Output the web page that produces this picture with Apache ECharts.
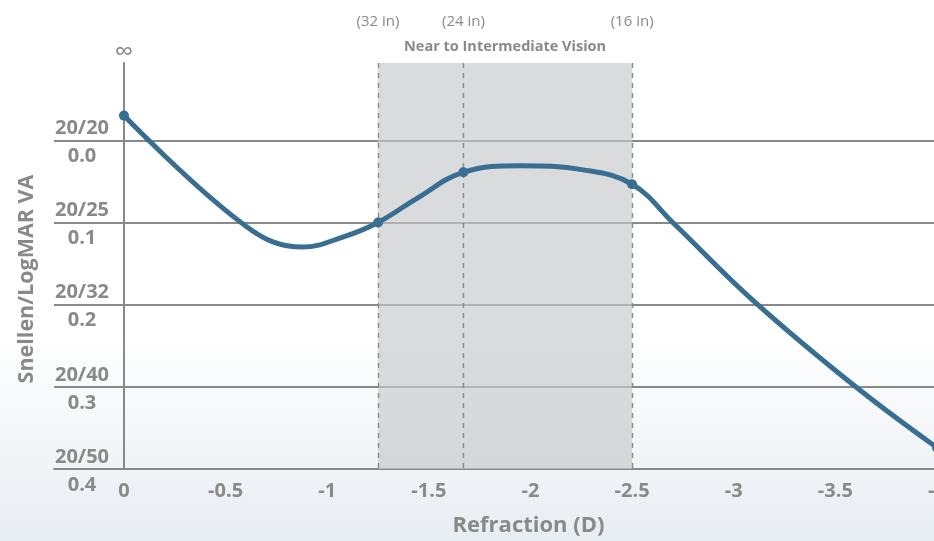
<!DOCTYPE html>
<html>
<head>
<meta charset="utf-8">
<script src="https://cdn.jsdelivr.net/npm/echarts@6/dist/echarts.min.js"></script>
<style>
html,body{margin:0;padding:0;background:#fff;}
#chart{width:934px;height:541px;}
</style>
</head>
<body>
<div id="chart"></div>
<script>
// ---- data ----
const refraction = [0, -0.6, -0.88, -1.08, -1.25, -1.44, -1.67, -1.95, -2.26, -2.5, -2.7, -3.1, -3.6, -4.0];
const logMAR     = [-0.030, 0.1045, 0.130, 0.1175, 0.100, 0.071, 0.039, 0.031, 0.036, 0.0535, 0.100, 0.196, 0.300, 0.374];
const markedRefraction = [0, -1.25, -1.67, -2.5, -4.0];
const distanceX = [-1.25, -1.67, -2.5];
const distanceLabels = ['(32 in)', '(24 in)', '(16 in)'];
const zoneLabel = 'Near to Intermediate Vision';
const yTickValues = [0.0, 0.1, 0.2, 0.3, 0.4];
const snellenLabels = ['20/20', '20/25', '20/32', '20/40', '20/50'];
const logMARLabels = ['0.0', '0.1', '0.2', '0.3', '0.4'];
const xTickValues = [0, -0.5, -1, -1.5, -2, -2.5, -3, -3.5, -4];
const xTickLabels = ['0', '-0.5', '-1', '-1.5', '-2', '-2.5', '-3', '-3.5', '-4'];

const X_MIN = -4.0, X_MAX = 0.3443;
const Y_MIN = -0.094, Y_MAX = 0.4;

const FONT = '"Open Sans", "Noto Sans", sans-serif';
const GRAY = '#898989';
const LINE_BLUE = '#386e91';

const chart = echarts.init(document.getElementById('chart'), null, {renderer: 'canvas'});

const curveData = refraction.map((x, i) => {
  const item = {value: [x, logMAR[i]]};
  if (markedRefraction.some(m => Math.abs(m - x) < 1e-9)) {
    item.symbol = 'circle';
    item.symbolSize = 10;
  }
  return item;
});

function near(a, b) { return Math.abs(a - b) < 1e-6; }

const option = {
  animation: false,
  backgroundColor: {
    type: 'linear', x: 0, y: 0, x2: 0, y2: 1,
    colorStops: [
      {offset: 0, color: '#ffffff'},
      {offset: 0.62, color: '#ffffff'},
      {offset: 1, color: '#e8edf2'}
    ]
  },
  textStyle: {fontFamily: FONT},
  grid: {left: 54, right: -3, top: 63, bottom: 72, containLabel: false, outerBoundsMode: 'none'},
  xAxis: {
    type: 'value',
    inverse: true,
    min: X_MIN,
    max: X_MAX,
    interval: 0.5,
    axisLine: {show: true, onZero: false, lineStyle: {color: GRAY, width: 2}},
    axisTick: {show: false},
    splitLine: {show: false},
    axisLabel: {
      margin: 12,
      color: GRAY,
      fontFamily: FONT,
      fontWeight: 'bold',
      fontSize: 20,
      hideOverlap: false,
      formatter: v => {
        const i = xTickValues.findIndex(t => near(t, v));
        return i < 0 ? '' : xTickLabels[i];
      }
    },
    name: 'Refraction (D)',
    nameLocation: 'middle',
    nameGap: 46,
    nameTextStyle: {
      color: GRAY, fontFamily: FONT, fontWeight: 'bold', fontSize: 22,
      padding: [0, 0, 0, 66]
    }
  },
  yAxis: {
    type: 'value',
    inverse: true,
    min: Y_MIN,
    max: Y_MAX,
    splitNumber: 5,
    axisLine: {show: true, onZero: true, lineStyle: {color: GRAY, width: 2}},
    axisTick: {show: false},
    splitLine: {show: true, showMinLine: false, lineStyle: {color: GRAY, width: 2}},
    axisLabel: {
      margin: -57,
      showMinLabel: false,
      padding: [4, 0, 0, 0],
      formatter: v => {
        const i = yTickValues.findIndex(t => near(t, v));
        return i < 0 ? '' : '{s|' + snellenLabels[i] + '}\n{s|' + logMARLabels[i] + '}';
      },
      rich: {
        s: {width: 58, align: 'center', fontSize: 20, fontWeight: 'bold', color: GRAY, fontFamily: FONT, lineHeight: 28}
      }
    },
    name: 'Snellen/LogMAR VA',
    nameLocation: 'middle',
    nameGap: 16,
    nameRotate: 90,
    nameTextStyle: {
      color: GRAY, fontFamily: FONT, fontWeight: 'bold', fontSize: 21.5,
      padding: [0, 26, 0, 0]
    }
  },
  series: [
    {
      type: 'line',
      data: curveData,
      smooth: 0.4,
      symbol: 'none',
      showSymbol: true,
      clip: false,
      lineStyle: {color: LINE_BLUE, width: 5},
      itemStyle: {color: LINE_BLUE},
      z: 5,
      markArea: {
        silent: true,
        itemStyle: {color: 'rgba(198,199,201,0.65)'},
        label: {
          show: true, position: 'top', distance: 9,
          color: GRAY, fontFamily: FONT, fontWeight: 'bold', fontSize: 14.5
        },
        data: [[
          {xAxis: distanceX[0], name: zoneLabel},
          {xAxis: distanceX[distanceX.length - 1]}
        ]]
      },
      markLine: {
        silent: true,
        symbol: 'none',
        lineStyle: {color: GRAY, width: 1.4, type: [5, 5]},
        label: {
          show: true, position: 'start', distance: 34,
          color: GRAY, fontFamily: FONT, fontSize: 15
        },
        data: distanceX.map((x, i) => ({xAxis: x, label: {formatter: distanceLabels[i]}}))
      },
      markPoint: {
        silent: true,
        symbol: 'circle',
        symbolSize: 0,
        label: {
          show: true, position: 'top', distance: -3,
          color: GRAY, fontFamily: FONT, fontSize: 26,
          formatter: '∞'
        },
        data: [{coord: [0, Y_MIN]}]
      }
    }
  ]
};

chart.setOption(option);
</script>
</body>
</html>
